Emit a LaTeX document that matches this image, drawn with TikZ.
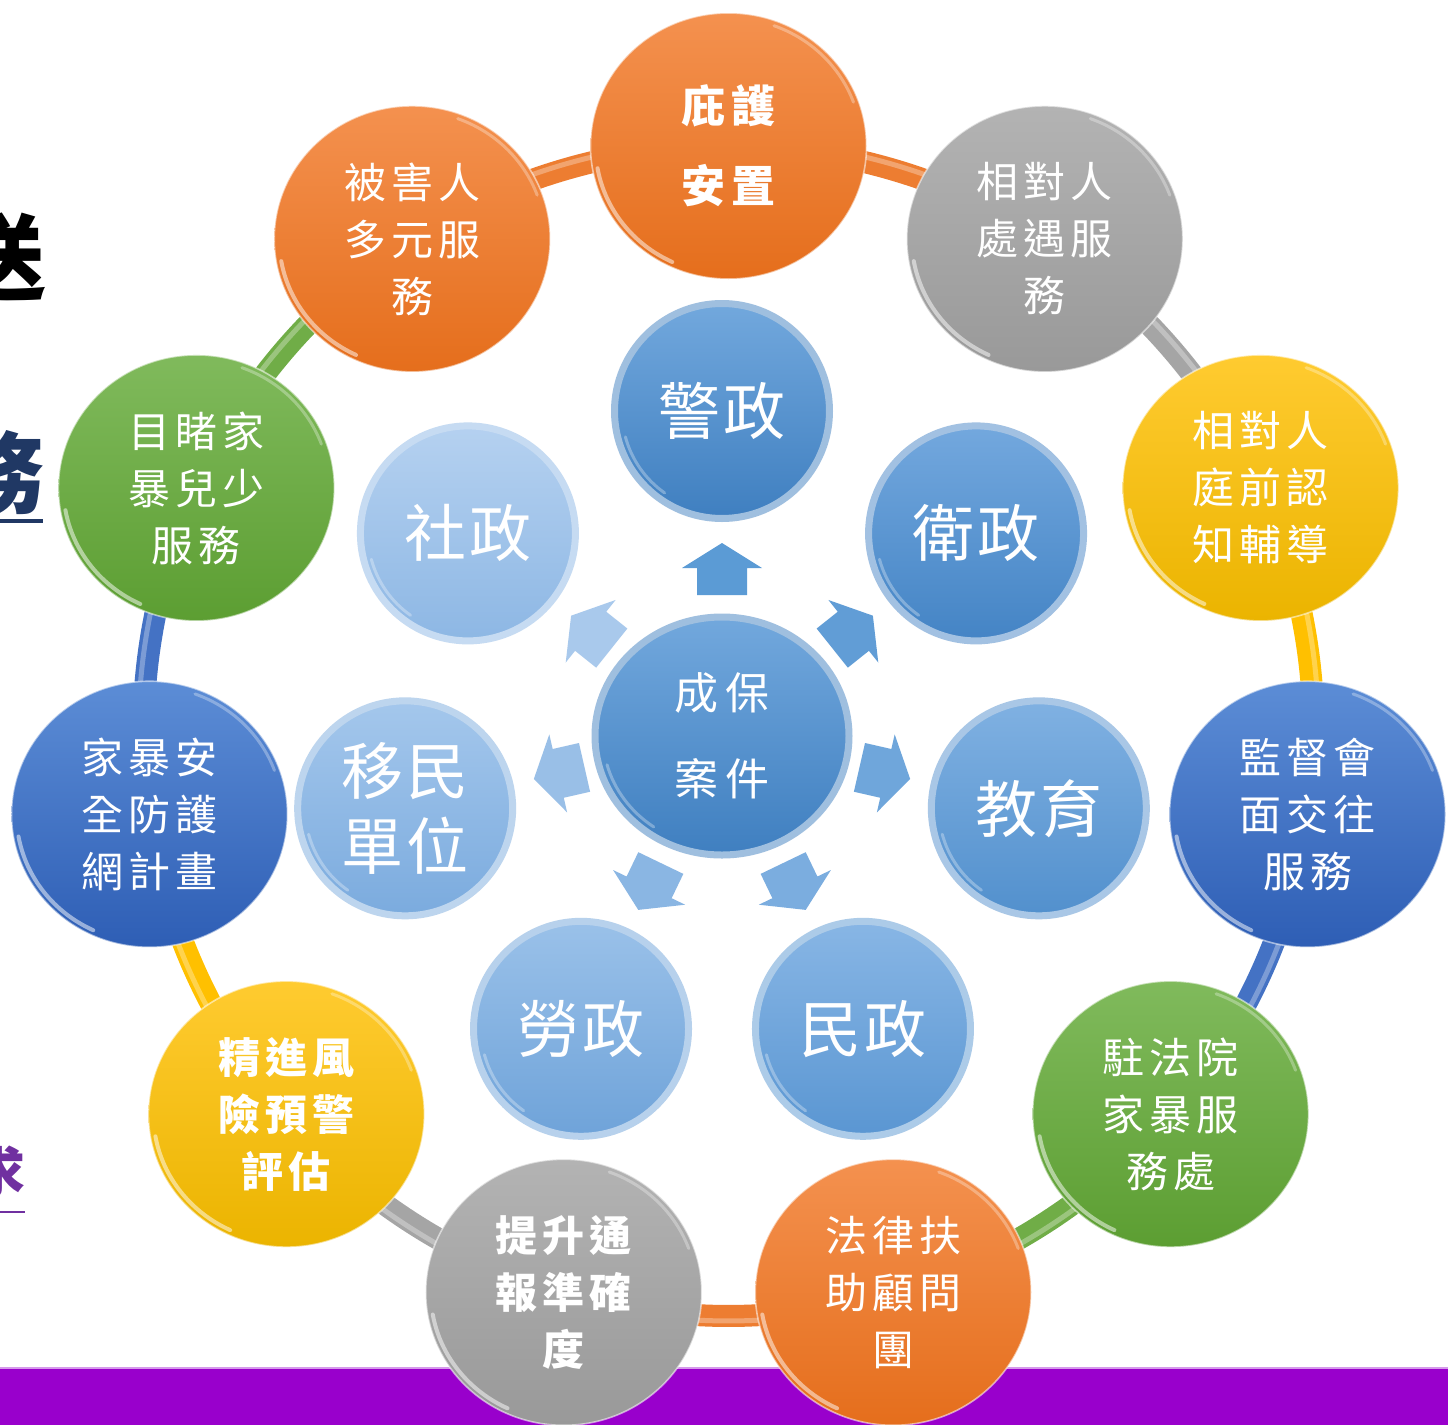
\documentclass[tikz,border=0pt]{standalone}
\usepackage{fontspec}
\usetikzlibrary{shapes.geometric}
\newfontfamily\cjk{Noto Sans CJK TC}
\newfontfamily\cjkO[LetterSpace=12]{Noto Sans CJK TC}
\newfontfamily\cjkT[LetterSpace=14]{Noto Sans CJK TC}
\newfontfamily\cjkI[LetterSpace=4]{Noto Sans CJK TC}
\newfontfamily\cjkC[LetterSpace=18]{Noto Sans CJK TC}
\definecolor{orT}{HTML}{F4914F}\definecolor{orB}{HTML}{E56E1C}\definecolor{orR}{HTML}{ED7D31}
\definecolor{grT}{HTML}{B3B3B3}\definecolor{grB}{HTML}{999999}\definecolor{grR}{HTML}{A5A5A5}
\definecolor{yeT}{HTML}{FFCB30}\definecolor{yeB}{HTML}{EBB400}\definecolor{yeR}{HTML}{FFC000}
\definecolor{blT}{HTML}{5C8DD6}\definecolor{blB}{HTML}{2E5EB5}\definecolor{blR}{HTML}{4472C4}
\definecolor{gnT}{HTML}{80BA5C}\definecolor{gnB}{HTML}{5C9E32}\definecolor{gnR}{HTML}{70AD47}
\definecolor{iT0}{HTML}{72A8DD}\definecolor{iB0}{HTML}{3F7FC0}
\definecolor{iT1}{HTML}{73A8DE}\definecolor{iB1}{HTML}{4484C5}
\definecolor{iT2}{HTML}{80B1E2}\definecolor{iB2}{HTML}{5290CD}
\definecolor{iT3}{HTML}{88B6E5}\definecolor{iB3}{HTML}{5A96D2}
\definecolor{iT4}{HTML}{9AC1E9}\definecolor{iB4}{HTML}{6FA3D9}
\definecolor{iT5}{HTML}{A4C7EC}\definecolor{iB5}{HTML}{7BABDE}
\definecolor{iT6}{HTML}{B5D1F0}\definecolor{iB6}{HTML}{8DB7E4}
\definecolor{a0}{HTML}{5B9BD5}\definecolor{a1}{HTML}{619DD6}\definecolor{a2}{HTML}{6FA6DB}
\definecolor{a3}{HTML}{7BADDF}\definecolor{a4}{HTML}{8AB6E3}\definecolor{a5}{HTML}{99BFE7}
\definecolor{a6}{HTML}{A9C9EC}
\definecolor{navy}{HTML}{203864}\definecolor{purp}{HTML}{7030A0}\definecolor{band}{HTML}{9900CC}
\begin{document}
\begin{tikzpicture}[x=0.5pt,y=-0.5pt,
  outer/.style={ellipse, minimum width=138pt, minimum height=133pt, inner sep=0pt,
    text=white, align=center, draw=white, draw opacity=0.55, line width=0.8pt,
    font=\cjkO\fontsize{21pt}{28.5pt}\selectfont},
  inner/.style={circle, minimum size=107.5pt, inner sep=0pt, text=white, align=center,
    font=\cjkI\fontsize{31pt}{37.5pt}\selectfont},
  ball/.style 2 args={top color=#1, bottom color=#2},
  rim/.style={draw=#1!50!white, line width=3.5pt},
  glint/.style={white, line width=2pt, opacity=0.5, line cap=round},
  ringseg/.style={line width=11pt, #1},
  ringshine/.style={line width=2.5pt, white, opacity=0.3},
  edgechar/.style={inner sep=0pt, anchor=east}
]
\useasboundingbox (0,0) rectangle (1448,1425);
\fill[white] (0,0) rectangle (1448,1425);
% bottom band
\fill[band] (0,1368) rectangle (1448,1425);
\draw[band!40!white, line width=0.8pt] (0,1368) -- (1448,1368);

% left-edge cut-off characters (cut by the page edge, as in the original)
\node[edgechar, font=\cjk\bfseries\fontsize{47pt}{47pt}\selectfont] (t1) at (47,258) {送};
\node[edgechar, text=navy, font=\cjk\bfseries\fontsize{45pt}{45pt}\selectfont] (t2) at (45,473) {務};
\draw[navy, line width=1.6pt] (0,521) -- (43,521);
\node[edgechar, text=purp, font=\cjk\bfseries\fontsize{27pt}{27pt}\selectfont] (t3) at (26,1172) {求};
\draw[purp, line width=1.1pt] (0,1212) -- (25,1212);

% ring segments
\foreach \k/\c in {0/orR,1/grR,2/yeR,3/blR,4/gnR,5/orR,6/grR,7/yeR,8/blR,9/gnR,10/orR}{
  \pgfmathsetmacro\aa{\k*32.7273-90}
  \pgfmathsetmacro\bb{\aa+32.7273}
  \draw[ringseg=\c] ([shift={(728.5,731)}]\aa:585) arc[start angle=\aa, end angle=\bb, radius=585];
  \draw[ringshine] ([shift={(728.5,731)}]\aa:590) arc[start angle=\aa, end angle=\bb, radius=590];
}

% outer circles
\coordinate (rc) at (728.5,731);
\node[outer, ball={orT}{orB}, font=\cjkT\bfseries\fontsize{22pt}{40pt}\selectfont] (o0) at ([shift={(rc)}]-90:585) {庇護\\安置};
\node[outer, ball={grT}{grB}] (o1) at ([shift={(rc)}]-57.27:585) {相對人\\處遇服\\務};
\node[outer, ball={yeT}{yeB}] (o2) at ([shift={(rc)}]-24.55:585) {相對人\\庭前認\\知輔導};
\node[outer, ball={blT}{blB}] (o3) at ([shift={(rc)}]8.18:585) {監督會\\面交往\\服務};
\node[outer, ball={gnT}{gnB}] (o4) at ([shift={(rc)}]40.91:585) {駐法院\\家暴服\\務處};
\node[outer, ball={orT}{orB}] (o5) at ([shift={(rc)}]73.64:585) {法律扶\\助顧問\\團};
\node[outer, ball={grT}{grB}, font=\cjkO\bfseries\fontsize{21pt}{28.5pt}\selectfont] (o6) at ([shift={(rc)}]106.36:585) {提升通\\報準確\\度};
\node[outer, ball={yeT}{yeB}, font=\cjkO\bfseries\fontsize{21pt}{28.5pt}\selectfont] (o7) at ([shift={(rc)}]139.09:585) {精進風\\險預警\\評估};
\node[outer, ball={blT}{blB}] (o8) at ([shift={(rc)}]171.82:585) {家暴安\\全防護\\網計畫};
\node[outer, ball={gnT}{gnB}] (o9) at ([shift={(rc)}]204.55:585) {目睹家\\暴兒少\\服務};
\node[outer, ball={orT}{orB}] (o10) at ([shift={(rc)}]237.27:585) {被害人\\多元服\\務};
\foreach \n in {o0,o1,o2,o3,o4,o5,o6,o7,o8,o9,o10}{
  \draw[glint] ([shift={(\n.center)}]115:133 and 128) arc[start angle=115, end angle=170, x radius=133, y radius=128];
  \draw[glint, opacity=0.3, line width=1.5pt] ([shift={(\n.center)}]-70:133 and 128) arc[start angle=-70, end angle=-20, x radius=133, y radius=128];
}

% arrows
\foreach \k/\c in {0/a0,1/a1,2/a2,3/a3,4/a4,5/a5,6/a6}{
  \pgfmathsetmacro\rr{90-\k*51.4286}
  \fill[\c, shift={(722,736)}, rotate=\rr] (141,-25) -- (168,-25) -- (168,-40) -- (193,0) -- (168,40) -- (168,25) -- (141,25) -- cycle;
}

% inner circles
\coordinate (ic) at (722,736);
\node[inner, ball={iT0}{iB0}, rim=iB0] (i0) at ([shift={(ic)}]-90:325) {警政};
\node[inner, ball={iT1}{iB1}, rim=iB1] (i1) at ([shift={(ic)}]-38.57:325) {衛政};
\node[inner, ball={iT2}{iB2}, rim=iB2] (i2) at ([shift={(ic)}]12.86:325) {教育};
\node[inner, ball={iT3}{iB3}, rim=iB3] (i3) at ([shift={(ic)}]64.29:325) {民政};
\node[inner, ball={iT4}{iB4}, rim=iB4] (i4) at ([shift={(ic)}]115.71:325) {勞政};
\node[inner, ball={iT5}{iB5}, rim=iB5] (i5) at ([shift={(ic)}]167.14:325) {移民\\單位};
\node[inner, ball={iT6}{iB6}, rim=iB6] (i6) at ([shift={(ic)}]218.57:325) {社政};
\node[ellipse, minimum width=127pt, minimum height=119pt, inner sep=0pt, ball={iT0}{iB0}, rim=iB0,
  text=white, align=center, font=\cjkC\fontsize{22pt}{43pt}\selectfont] (c) at (722,736) {成保\\案件};
\foreach \n in {i0,i1,i2,i3,i4,i5,i6}{
  \draw[glint, opacity=0.3, line width=1.5pt] ([shift={(\n.center)}]125:100 and 100) arc[start angle=125, end angle=165, radius=100];
}
\draw[glint, opacity=0.3, line width=1.5pt] ([shift={(c.center)}]125:119 and 111) arc[start angle=125, end angle=165, x radius=119, y radius=111];
\end{tikzpicture}
\end{document}
